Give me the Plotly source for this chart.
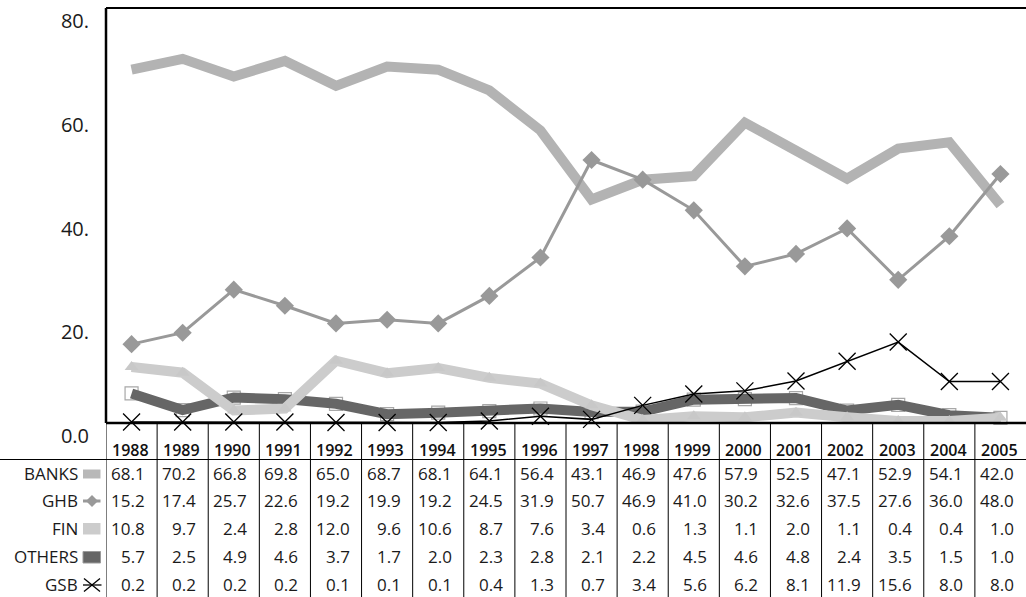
import plotly.graph_objects as go

years = ["1988", "1989", "1990", "1991", "1992", "1993", "1994", "1995", "1996",
         "1997", "1998", "1999", "2000", "2001", "2002", "2003", "2004", "2005"]
banks = [68.1, 70.2, 66.8, 69.8, 65.0, 68.7, 68.1, 64.1, 56.4, 43.1, 46.9, 47.6, 57.9, 52.5, 47.1, 52.9, 54.1, 42.0]
ghb = [15.2, 17.4, 25.7, 22.6, 19.2, 19.9, 19.2, 24.5, 31.9, 50.7, 46.9, 41.0, 30.2, 32.6, 37.5, 27.6, 36.0, 48.0]
fin = [10.8, 9.7, 2.4, 2.8, 12.0, 9.6, 10.6, 8.7, 7.6, 3.4, 0.6, 1.3, 1.1, 2.0, 1.1, 0.4, 0.4, 1.0]
others = [5.7, 2.5, 4.9, 4.6, 3.7, 1.7, 2.0, 2.3, 2.8, 2.1, 2.2, 4.5, 4.6, 4.8, 2.4, 3.5, 1.5, 1.0]
gsb = [0.2, 0.2, 0.2, 0.2, 0.1, 0.1, 0.1, 0.4, 1.3, 0.7, 3.4, 5.6, 6.2, 8.1, 11.9, 15.6, 8.0, 8.0]
series_names = ["BANKS", "GHB", "FIN", "OTHERS", "GSB"]
series_vals = [banks, ghb, fin, others, gsb]
y_ticks = [0, 20, 40, 60, 80]
y_ticktext = ["0.0", "20.", "40.", "60.", "80."]

W, H = 1026, 597
L, T, R, B = 106, 8, 1026, 423
n = len(years)
xs = list(range(n))
FONT = "Open Sans"
TXT = "#1a1a1a"


def px(xp):
    return (xp - L) / (R - L)


def py(yp):
    return (B - yp) / (B - T)


fig = go.Figure()

# OTHERS open square markers (behind)
fig.add_trace(go.Scatter(x=xs, y=others, mode="markers", cliponaxis=False,
                         marker=dict(symbol="square", size=13, color="white",
                                     line=dict(color="#a8a8a8", width=1.2)),
                         showlegend=False, hoverinfo="skip"))
fig.add_trace(go.Scatter(x=xs, y=banks, mode="lines", name="BANKS",
                         line=dict(color="#b3b3b3", width=10)))
fig.add_trace(go.Scatter(x=xs, y=others, mode="lines", name="OTHERS",
                         line=dict(color="#666666", width=10)))
fig.add_trace(go.Scatter(x=xs, y=fin, mode="lines+markers", name="FIN", cliponaxis=False,
                         line=dict(color="#cccccc", width=10),
                         marker=dict(symbol="triangle-up", size=12, color="#c8c8c8")))
fig.add_trace(go.Scatter(x=xs, y=ghb, mode="lines+markers", name="GHB", cliponaxis=False,
                         line=dict(color="#999999", width=3),
                         marker=dict(symbol="diamond", size=14, color="#999999")))
fig.add_trace(go.Scatter(x=xs, y=gsb, mode="lines+markers", name="GSB", cliponaxis=False,
                         line=dict(color="#000000", width=1.5),
                         marker=dict(symbol="x-thin-open", size=17,
                                     line=dict(color="#000000", width=1.3))))

shapes = []
annotations = []
# plot borders
shapes.append(dict(type="line", xref="paper", yref="paper", x0=0, x1=1, y0=1, y1=1,
                   line=dict(color="black", width=2)))
shapes.append(dict(type="line", xref="paper", yref="paper", x0=0, x1=0, y0=0, y1=1,
                   line=dict(color="black", width=2.5)))

# table grid
row_y = [473.8, 500.8, 528.3, 556.5, 584.5]
year_y = 450
shapes.append(dict(type="line", xref="paper", yref="paper", x0=px(0), x1=1,
                   y0=py(459.5), y1=py(459.5), line=dict(color="black", width=1)))
for k in range(n):
    xv = k - 0.5
    shapes.append(dict(type="line", xref="x", yref="paper", x0=xv, x1=xv,
                       y0=py(B), y1=py(600), line=dict(color="black", width=1)))
shapes.append(dict(type="line", xref="paper", yref="paper", x0=0, x1=1, y0=0, y1=0,
                   line=dict(color="black", width=2.5)))

for i, yr in enumerate(years):
    annotations.append(dict(x=i - 1.2 / 51.1, y=py(year_y), xref="x", yref="paper", text=yr,
                            showarrow=False, xanchor="center", yanchor="middle",
                            font=dict(family=FONT, size=16, weight=600, color="#111111")))
    for r, vals in enumerate(series_vals):
        annotations.append(dict(x=i + 0.5 - 10 / 51.1, y=py(row_y[r]), xref="x", yref="paper",
                                text=f"{vals[i]:.1f}", showarrow=False,
                                xanchor="right", yanchor="middle",
                                font=dict(family=FONT, size=17, color=TXT)))

for r, name in enumerate(series_names):
    annotations.append(dict(x=px(80), y=py(row_y[r]), xref="paper", yref="paper", text=name,
                            showarrow=False, xanchor="right", yanchor="middle",
                            font=dict(family=FONT, size=17, color=TXT)))

# legend keys
kx0, kx1, kc = 83, 100.5, 92
# BANKS
shapes.append(dict(type="rect", xref="paper", yref="paper", x0=px(kx0), x1=px(kx1),
                   y0=py(478.5), y1=py(469.5), fillcolor="#b8b8b8", line=dict(width=0)))
# GHB
shapes.append(dict(type="line", xref="paper", yref="paper", x0=px(kx0), x1=px(kx1),
                   y0=py(501), y1=py(501), line=dict(color="#999999", width=3)))
shapes.append(dict(type="path", xref="paper", yref="paper",
                   path=f"M {px(kc-6)} {py(501)} L {px(kc)} {py(495)} L {px(kc+6)} {py(501)} L {px(kc)} {py(507)} Z",
                   fillcolor="#999999", line=dict(width=0)))
# FIN
shapes.append(dict(type="rect", xref="paper", yref="paper", x0=px(kx0), x1=px(kx1),
                   y0=py(534.5), y1=py(523), fillcolor="#cccccc", line=dict(width=0)))
# OTHERS
shapes.append(dict(type="rect", xref="paper", yref="paper", x0=px(kx0), x1=px(kx1),
                   y0=py(563), y1=py(551.5), fillcolor="#666666",
                   line=dict(color="#9a9a9a", width=1)))
# GSB
shapes.append(dict(type="line", xref="paper", yref="paper", x0=px(kx0), x1=px(kx1 + 1),
                   y0=py(585), y1=py(585), line=dict(color="black", width=1.3)))
shapes.append(dict(type="line", xref="paper", yref="paper", x0=px(kc - 8), x1=px(kc + 8),
                   y0=py(578.5), y1=py(591.5), line=dict(color="black", width=1.3)))
shapes.append(dict(type="line", xref="paper", yref="paper", x0=px(kc - 8), x1=px(kc + 8),
                   y0=py(591.5), y1=py(578.5), line=dict(color="black", width=1.3)))

fig.update_layout(
    width=W, height=H,
    margin=dict(l=L, r=W - R, t=T, b=H - B, pad=0),
    paper_bgcolor="white", plot_bgcolor="white",
    showlegend=False,
    shapes=shapes, annotations=annotations,
    xaxis=dict(range=[-0.5, n - 0.5], showticklabels=False, showgrid=False,
               zeroline=False, showline=False, ticks=""),
    yaxis=dict(range=[0, 80], tickvals=y_ticks, ticktext=y_ticktext, showgrid=False,
               zeroline=False, showline=False, ticks="", ticklabelshift=13,
               ticklabelstandoff=16,
               tickfont=dict(family=FONT, size=20, color=TXT)),
)

fig.write_html(
    "out.html",
    config={"displayModeBar": False},
    post_script="document.body.style.margin='0';document.body.style.overflow='hidden';",
)
